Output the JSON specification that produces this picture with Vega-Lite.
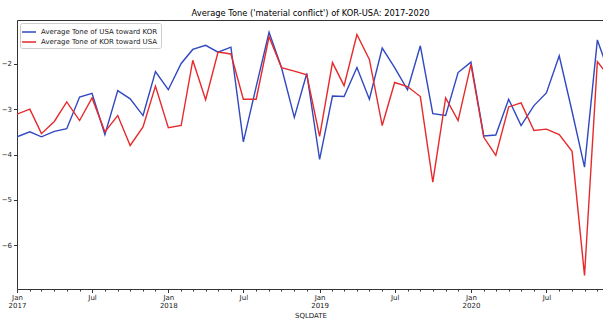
{
  "$schema": "https://vega.github.io/schema/vega-lite/v6.json",
  "autosize": {"type": "none"},
  "padding": {"left": 17, "top": 20, "right": 0, "bottom": 30},
  "width": 587,
  "height": 269,
  "background": "white",
  "title": {"text": "Average Tone ('material conflict') of KOR-USA: 2017-2020", "fontSize": 8.3, "font": "DejaVu Sans", "fontWeight": "normal", "color": "#000", "anchor": "middle", "offset": 3},
  "config": {
    "view": {"stroke": "#333", "strokeWidth": 1},
    "axis": {"labelFont": "DejaVu Sans", "titleFont": "DejaVu Sans", "labelColor": "#222", "titleColor": "#222", "tickColor": "#333", "domain": false, "grid": false}
  },
  "data": {"values": [
    {"SQLDATE": "2017-01-01", "usa": -3.61, "kor": -3.11},
    {"SQLDATE": "2017-02-01", "usa": -3.50, "kor": -3.00},
    {"SQLDATE": "2017-03-01", "usa": -3.61, "kor": -3.54},
    {"SQLDATE": "2017-04-01", "usa": -3.49, "kor": -3.27},
    {"SQLDATE": "2017-05-01", "usa": -3.43, "kor": -2.84},
    {"SQLDATE": "2017-06-01", "usa": -2.73, "kor": -3.25},
    {"SQLDATE": "2017-07-01", "usa": -2.65, "kor": -2.75},
    {"SQLDATE": "2017-08-01", "usa": -3.56, "kor": -3.50},
    {"SQLDATE": "2017-09-01", "usa": -2.59, "kor": -3.14},
    {"SQLDATE": "2017-10-01", "usa": -2.77, "kor": -3.80},
    {"SQLDATE": "2017-11-01", "usa": -3.14, "kor": -3.39},
    {"SQLDATE": "2017-12-01", "usa": -2.17, "kor": -2.49},
    {"SQLDATE": "2018-01-01", "usa": -2.57, "kor": -3.41},
    {"SQLDATE": "2018-02-01", "usa": -1.99, "kor": -3.36},
    {"SQLDATE": "2018-03-01", "usa": -1.68, "kor": -1.92},
    {"SQLDATE": "2018-04-01", "usa": -1.59, "kor": -2.79},
    {"SQLDATE": "2018-05-01", "usa": -1.74, "kor": -1.74},
    {"SQLDATE": "2018-06-01", "usa": -1.63, "kor": -1.78},
    {"SQLDATE": "2018-07-01", "usa": -3.72, "kor": -2.78},
    {"SQLDATE": "2018-08-01", "usa": -2.50, "kor": -2.78},
    {"SQLDATE": "2018-09-01", "usa": -1.30, "kor": -1.40},
    {"SQLDATE": "2018-10-01", "usa": -2.08, "kor": -2.08},
    {"SQLDATE": "2018-11-01", "usa": -3.18, "kor": -2.16},
    {"SQLDATE": "2018-12-01", "usa": -2.21, "kor": -2.24},
    {"SQLDATE": "2019-01-01", "usa": -4.11, "kor": -3.60},
    {"SQLDATE": "2019-02-01", "usa": -2.71, "kor": -1.97},
    {"SQLDATE": "2019-03-01", "usa": -2.72, "kor": -2.48},
    {"SQLDATE": "2019-04-01", "usa": -2.08, "kor": -1.35},
    {"SQLDATE": "2019-05-01", "usa": -2.78, "kor": -1.90},
    {"SQLDATE": "2019-06-01", "usa": -1.65, "kor": -3.36},
    {"SQLDATE": "2019-07-01", "usa": -2.08, "kor": -2.41},
    {"SQLDATE": "2019-08-01", "usa": -2.57, "kor": -2.50},
    {"SQLDATE": "2019-09-01", "usa": -1.60, "kor": -2.72},
    {"SQLDATE": "2019-10-01", "usa": -3.10, "kor": -4.61},
    {"SQLDATE": "2019-11-01", "usa": -3.14, "kor": -2.75},
    {"SQLDATE": "2019-12-01", "usa": -2.19, "kor": -3.25},
    {"SQLDATE": "2020-01-01", "usa": -1.96, "kor": -2.01},
    {"SQLDATE": "2020-02-01", "usa": -3.59, "kor": -3.62},
    {"SQLDATE": "2020-03-01", "usa": -3.57, "kor": -4.02},
    {"SQLDATE": "2020-04-01", "usa": -2.78, "kor": -2.95},
    {"SQLDATE": "2020-05-01", "usa": -3.36, "kor": -2.86},
    {"SQLDATE": "2020-06-01", "usa": -2.92, "kor": -3.47},
    {"SQLDATE": "2020-07-01", "usa": -2.64, "kor": -3.44},
    {"SQLDATE": "2020-08-01", "usa": -1.82, "kor": -3.56},
    {"SQLDATE": "2020-09-01", "usa": -3.05, "kor": -3.93},
    {"SQLDATE": "2020-10-01", "usa": -4.28, "kor": -6.67},
    {"SQLDATE": "2020-11-01", "usa": -1.47, "kor": -1.95},
    {"SQLDATE": "2020-12-01", "usa": -2.25, "kor": -2.30}
  ]},
  "transform": [{"fold": ["usa", "kor"], "as": ["series", "tone"]}],
  "mark": {"type": "line", "strokeWidth": 1.4, "clip": true},
  "encoding": {
    "x": {
      "field": "SQLDATE", "type": "temporal",
      "scale": {"type": "utc", "nice": false, "domain": [{"year": 2017, "month": 1, "date": 1, "utc": true}, {"year": 2020, "month": 11, "date": 17, "utc": true}]},
      "axis": {
        "tickCount": {"interval": "month", "step": 1},
        "labelExpr": "utcmonth(datum.value)==0 ? ['Jan', '' + utcyear(datum.value)] : (utcmonth(datum.value)==6 ? 'Jul' : '')",
        "tickSize": {"condition": {"test": "utcmonth(datum.value) % 6 == 0", "value": 3.5}, "value": 2},
        "labelOverlap": false, "labelFlush": false, "labelBound": false,
        "labelFontSize": 7, "labelPadding": 1, "labelLineHeight": 8,
        "title": "SQLDATE", "titleFontSize": 7, "titleFontWeight": "normal", "titlePadding": 3
      }
    },
    "y": {
      "field": "tone", "type": "quantitative",
      "scale": {"domain": [-6.97, -1.03], "nice": false, "zero": false},
      "axis": {"values": [-6, -5, -4, -3, -2], "title": null, "labelExpr": "replace(datum.label, '-', '\u2212')", "labelFontSize": 7, "tickSize": 3.5, "labelPadding": 2}
    },
    "color": {
      "field": "series", "type": "nominal",
      "scale": {"domain": ["usa", "kor"], "range": ["#3048c0", "#e62a2c"]},
      "legend": {
        "orient": "top-left", "offset": 3, "title": null,
        "labelExpr": "datum.label == 'usa' ? 'Average Tone of USA toward KOR' : 'Average Tone of KOR toward USA'",
        "labelFontSize": 7, "labelFont": "DejaVu Sans", "labelColor": "#222", "labelLimit": 0,
        "symbolType": "M-1.4,0H1.4", "symbolSize": 100, "symbolStrokeWidth": 1.5,
        "fillColor": "white", "strokeColor": "#ccc", "cornerRadius": 2, "padding": 3, "rowPadding": 1, "labelOffset": 6
      }
    }
  }
}
